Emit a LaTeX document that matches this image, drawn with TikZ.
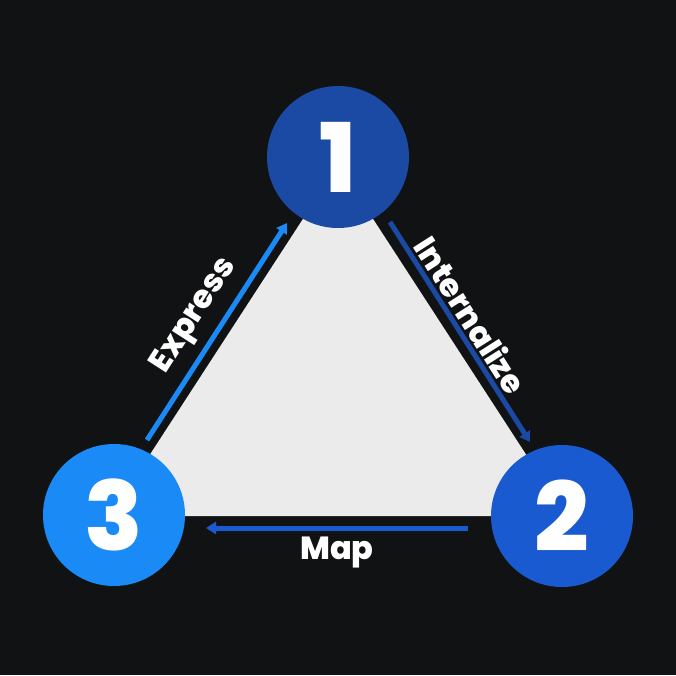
\documentclass[tikz,border=0pt]{standalone}
\usepackage{fontspec}
\setmainfont{Poppins}[BoldFont={* ExtraBold}]
\usetikzlibrary{arrows.meta}
\definecolor{bgdark}{HTML}{111214}
\definecolor{trifill}{HTML}{EBEBEB}
\definecolor{blueone}{HTML}{1A4AA3}
\definecolor{bluetwo}{HTML}{1A5AD0}
\definecolor{bluethree}{HTML}{1A8AF6}

\begin{document}
\begin{tikzpicture}[x=1pt, y=-1pt,
  step circle/.style = {circle, minimum size=142pt, inner sep=0pt, text=white,
    font=\fontsize{96}{96}\selectfont\bfseries},
  lbl/.style = {text=white, inner sep=0pt, font=\fontsize{32}{32}\selectfont\bfseries},
  arr/.style = {line width=5pt, -{Triangle[length=10pt,width=12pt]}}]
\fill[bgdark] (0,0) rectangle (676,675);
\useasboundingbox (0,0) rectangle (676,675);
% triangle behind the circles
\fill[trifill] (338,165) -- (110,516) -- (566,516) -- cycle;
\node[step circle, fill=blueone] (1) at (338,157) {1};
\node[step circle, fill=bluetwo] (2) at (562,516) {2};
\node[step circle, fill=bluethree] (3) at (114,515) {3};
% arrow ends
\coordinate (i1) at (390,222);
\coordinate (i2) at (530,442);
\coordinate (m2) at (468,528);
\coordinate (m3) at (206,528);
\coordinate (e3) at (147,440);
\coordinate (e1) at (287,223);
\draw[arr, blueone] (i1) -- (i2);
\draw[arr, bluetwo] (m2) -- (m3);
\draw[arr, bluethree] (e3) -- (e1);
\node[lbl, rotate=-57.5] (int) at (471,315) {Internalize};
\node[lbl] (map) at (337,552) {Map};
\node[lbl, rotate=57.2] (exp) at (195,316) {Express};
\end{tikzpicture}
\end{document}
